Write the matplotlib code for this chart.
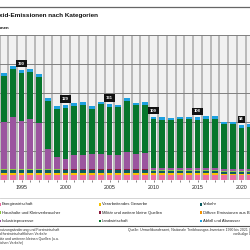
import matplotlib
matplotlib.use("Agg")
import matplotlib.pyplot as plt
from matplotlib.patches import Rectangle
from matplotlib.lines import Line2D
import numpy as np

plt.rcParams['font.family'] = ['Liberation Sans Narrow', 'Liberation Sans', 'DejaVu Sans']

years = list(range(1993, 2022))

energie = [9]*17 + [8.5]*8 + [8]*4
verarbeitend = [3]*25 + [2.5]*4
verkehr = [5.5]*7 + [4.5]*10 + [3.5]*12
haushalte = [1.5]*29
militaer = [0.3]*29
diffuse = [0.2]*29
industrie = [81, 89, 83, 86, 78, 34, 20, 18, 25, 25, 26, 27, 24, 25, 29, 27, 28,
             4, 3.5, 3.5, 3.5, 3.5, 3.5, 3.5, 3.5, 3, 3, 2.5, 2.5]
landwirtschaft = [79.5, 82.5, 82.5, 81.5, 80.5, 83.5, 83.5, 88, 84, 86, 78, 85, 84, 82, 89, 83, 83,
                  84, 83.5, 82.5, 84.5, 84.5, 83.5, 85.5, 85.5, 77, 77, 71.5, 73.5]
abfall = [5]*7 + [4.5]*10 + [4]*12

label_years = [1995, 2000, 2005, 2010, 2015, 2020]

categories = ["Energiewirtschaft", "Verarbeitendes Gewerbe", "Verkehr",
              "Haushalte und Kleinverbraucher", "Militär und weitere kleine Quellen",
              "Diffuse Emissionen aus Brennstoffen",
              "Industrieprozesse", "Landwirtschaft", "Abfall und Abwasser"]
series = [energie, verarbeitend, verkehr, haushalte, militaer, diffuse,
          industrie, landwirtschaft, abfall]
colors = ['#ec6fa3', '#f7c200', '#0b5b60', '#8cc63f', '#8b1a3c', '#f39200',
          '#9b559f', '#07762c', '#1ea1df']

W, H = 250, 250
fig = plt.figure(figsize=(2.5, 2.5), dpi=100)

def fx(px):
    return px / W

def fy(py):
    return 1 - py / H

ax_left_px, ax_right_px = -30, 260
ax_top_px, ax_bot_px = 35, 180
ax = fig.add_axes([fx(ax_left_px), fy(ax_bot_px), fx(ax_right_px - ax_left_px),
                   (ax_bot_px - ax_top_px) / H])
ax.set_facecolor('#f1f1f1')

ppy = 8.8
x0 = 1995 + (ax_left_px - 21.5) / ppy
x1 = 1995 + (ax_right_px - 21.5) / ppy
ax.set_xlim(x0, x1)
ax.set_ylim(0, 250)

for y in range(1988, 2024):
    ax.axvline(y + 0.5, color='#b0b0b0', lw=1.2, zorder=0.5)
ax.set_yticks([0, 50, 100, 150, 200, 250])
ax.yaxis.grid(True, color='#808080', lw=0.7, zorder=0.6)
ax.set_axisbelow(True)
ax.tick_params(axis='y', length=0, labelleft=False)

bottom = np.zeros(len(years))
for vals, c in zip(series, colors):
    ax.bar(years, vals, bottom=bottom, width=0.68, color=c, zorder=2, linewidth=0)
    bottom += np.array(vals)

totals = bottom
for ly in label_years:
    i = years.index(ly)
    ax.annotate(f"{round(totals[i])}", (ly, totals[i]), xytext=(0, 4.4),
                textcoords='offset points', ha='center', va='center',
                fontsize=3.0, color='white', fontweight='bold', zorder=5,
                bbox=dict(boxstyle='square,pad=0.4', fc='#111111', ec='none'))

for s in ax.spines.values():
    s.set_visible(False)
ax.set_xticks([1995, 2000, 2005, 2010, 2015, 2020])
ax.set_xticks(years, minor=True)
ax.tick_params(axis='x', which='both', length=1.5, width=0.5, color='#555555',
               labelsize=3.8, pad=2.4, labelcolor='#222222')

# header
fig.add_artist(Line2D([0, 1], [fy(6.7), fy(6.7)], color='#666666', lw=0.9))
fig.text(fx(98), fy(15.5), "Distickstoffoxid-Emissionen nach Kategorien", ha='right',
         va='center', fontsize=4.6, fontweight='bold', color='#111111')
fig.text(fx(8.5), fy(27.7), "Tausend Tonnen", ha='right', va='center',
         fontsize=3.2, fontweight='bold', color='#111111')

# legend
fig.add_artist(Line2D([0, 1], [fy(198), fy(198)], color='#cccccc', lw=0.6))
col_x = [-1.5, 98.5, 199.5]
row_y = [204.3, 212.7, 221.0]
order = [(0, 0), (0, 1), (0, 2), (1, 0), (1, 1), (1, 2), (2, 0), (2, 1), (2, 2)]
for (r, c), name, colr in zip(order, categories, colors):
    fig.add_artist(Rectangle((fx(col_x[c]), fy(row_y[r] + 1.2)), fx(2.4), 2.4 / H,
                             transform=fig.transFigure, color=colr, lw=0))
    fig.text(fx(col_x[c] + 3.6), fy(row_y[r]), name, ha='left', va='center',
             fontsize=3.0, color='#222222')

# footer
fig.add_artist(Line2D([0, 1], [fy(226), fy(226)], color='#555555', lw=0.8))
foot_left = ["¹ ohne Landnutzung, Landnutzungsänderung und Forstwirtschaft",
             "² ohne land- und forstwirtschaftlichen Verkehr",
             "³ Haushalte und Kleinverbraucher: mit Militär und weiteren kleinen Quellen (u.a.",
             "land- und forstwirtschaftlichen Verkehr)"]
foot_right_px = [59, 47, 59, 23]
foot_y = [229.7, 233.6, 238.7, 242.8]
for t, xr, yy in zip(foot_left, foot_right_px, foot_y):
    fig.text(fx(xr), fy(yy), t, ha='right', va='center', fontsize=2.5, color='#333333')
fig.text(fx(128), fy(229.7), "Quelle: Umweltbundesamt, Nationale Treibhausgas-Inventare 1990 bis 2021 (Stand 01/2023)",
         ha='left', va='center', fontsize=2.5, color='#333333')
fig.text(fx(233), fy(233.6), "vorläufige Daten", ha='left', va='center',
         fontsize=2.5, color='#333333')

fig.savefig("out.png", dpi=100, facecolor='white')
